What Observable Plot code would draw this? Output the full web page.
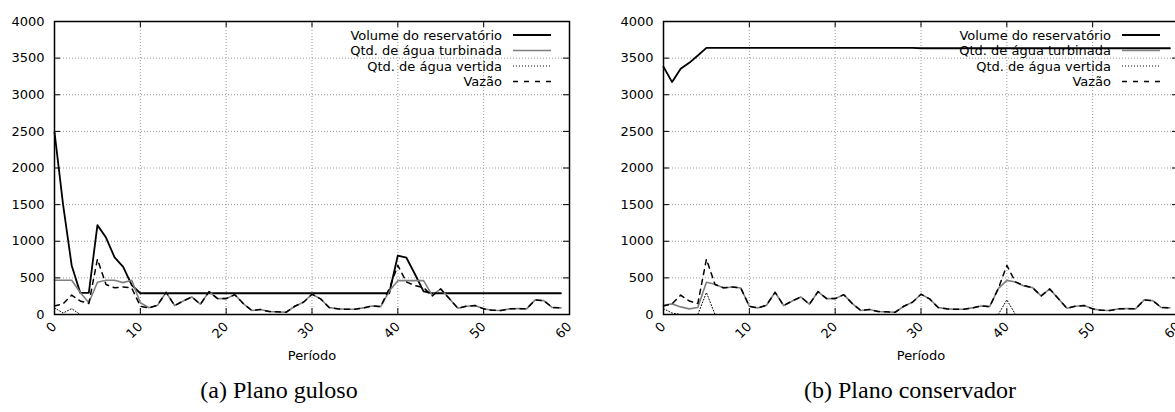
<!DOCTYPE html>
<html><head><meta charset="utf-8">
<script src="https://cdn.jsdelivr.net/npm/d3@7"></script>
<script src="https://cdn.jsdelivr.net/npm/@observablehq/plot@0.6"></script>
<style>
body{margin:0;width:1175px;height:412px;overflow:hidden;background:#fff;position:relative;font-family:"DejaVu Sans",sans-serif}
.chart{position:absolute;top:0;width:590px;height:370px}
.chart svg{max-width:none !important;width:590px;height:370px}
.caption{position:absolute;top:377px;font-family:"Liberation Serif","Times New Roman",serif;font-size:24px;transform:translateX(-50%);white-space:nowrap;color:#000}
</style></head><body>
<div id="a" class="chart" style="left:0"></div>
<div id="b" class="chart" style="left:609px"></div>
<div class="caption" style="left:279px">(a) Plano guloso</div>
<div class="caption" style="left:910px">(b) Plano conservador</div>
<script>
const periodos = [0,1,2,3,4,5,6,7,8,9,10,11,12,13,14,15,16,17,18,19,20,21,22,23,24,25,26,27,28,29,30,31,32,33,34,35,36,37,38,39,40,41,42,43,44,45,46,47,48,49,50,51,52,53,54,55,56,57,58,59];
const xTicks = [0,10,20,30,40,50,60];
const yTicks = [0,500,1000,1500,2000,2500,3000,3500,4000];
const serieNomes = ["Volume do reservatório","Qtd. de água turbinada","Qtd. de água vertida","Vazão"];

const vazao = [115,145,265,185,150,755,410,365,376,362,
 113,90,127,303,122,185,240,140,312,217,
 217,271,149,54,68,40,36,31,113,167,
 276,213,95,77,72,72,90,117,108,353,
 670,444,395,367,253,349,217,86,113,122,
 77,58,54,77,81,77,199,190,95,90];

const volGuloso = [2490,1500,670,295,295,1220,1050,780,650,400,
 290,290,290,290,290,290,290,290,290,290,
 290,290,290,290,290,290,290,290,290,290,
 290,290,290,290,290,290,290,290,290,290,
 805,775,550,317,290,290,290,290,290,290,
 290,290,290,290,290,290,290,290,290,290];
const turbGuloso = [467,467,467,300,160,440,467,467,435,467,
 160,92,125,303,122,185,240,140,312,217,
 217,271,149,54,68,40,36,31,113,167,
 276,213,95,77,72,72,90,117,108,320,
 462,462,462,462,262,349,217,86,113,122,
 77,58,54,77,81,77,199,190,95,90];
const vertGuloso = [90,20,80,0,0,0,0,0,0,0,
 0,0,0,0,0,0,0,0,0,0,
 0,0,0,0,0,0,0,0,0,0,
 0,0,0,0,0,0,0,0,0,0,
 0,0,0,0,0,0,0,0,0,0,
 0,0,0,0,0,0,0,0,0,0];

const volConserv = [3382,3173,3354,3436,3536,3640,3640,3640,3640,3640,
 3640,3640,3640,3640,3640,3640,3640,3640,3640,3640,
 3640,3640,3640,3640,3640,3640,3640,3640,3640,3640,
 3635,3635,3635,3635,3635,3635,3635,3635,3635,3635,
 3635,3635,3635,3635,3635,3635,3635,3635,3635,3635,
 3635,3635,3635,3635,3635,3635,3635,3635,3635,3635];
const turbConserv = [127,145,104,77,95,440,412,362,376,362,
 113,90,127,303,122,185,240,140,312,217,
 217,271,149,54,68,40,36,31,113,167,
 276,213,95,77,72,72,90,117,108,353,
 466,444,390,367,253,349,217,86,113,122,
 77,58,54,77,81,77,199,190,95,90];
const vertConserv = [80,20,0,0,0,300,0,0,0,0,
 0,0,0,0,0,0,0,0,0,0,
 0,0,0,0,0,0,0,0,0,0,
 0,0,0,0,0,0,0,0,0,0,
 200,0,0,0,0,0,0,0,0,0,
 0,0,0,0,0,0,0,0,0,0];

const estilos = [
  {stroke:"#000", strokeWidth:1.8, dash:null, legendDash:null},
  {stroke:"#808080", strokeWidth:1.6, dash:null, legendDash:null},
  {stroke:"#000", strokeWidth:1, dash:"1,2", legendDash:"1,2"},
  {stroke:"#000", strokeWidth:1.5, dash:"5,5", legendDash:"5,6"}
];

function chart(vol, turb, vert, vaz) {
  const W = 590, H = 370, mL = 54, mR = 21, mT = 21, mB = 56;
  const pw = W - mL - mR, ph = H - mT - mB;
  const rows = arr => periodos.map((p, i) => ({p, v: arr[i]}));
  const legend = (index, scales, values, dims) => {
    const g = d3.create("svg:g").attr("font-family", "DejaVu Sans").attr("font-size", 13);
    const right = dims.width - dims.marginRight;
    serieNomes.forEach((name, i) => {
      const y = dims.marginTop + 14 + i * 15.5;
      g.append("text").attr("x", right - 67).attr("y", y).attr("dy", "0.35em")
        .attr("text-anchor", "end").attr("fill", "#000").text(name);
      const s = estilos[i];
      g.append("line").attr("x1", right - 56).attr("x2", right - 18).attr("y1", y).attr("y2", y)
        .attr("stroke", s.stroke).attr("stroke-width", s.strokeWidth)
        .attr("stroke-dasharray", s.legendDash);
    });
    return g.node();
  };
  const line = (arr, i) => Plot.line(rows(arr), {x: "p", y: "v", stroke: estilos[i].stroke,
    strokeWidth: estilos[i].strokeWidth, strokeDasharray: estilos[i].dash || undefined});
  return Plot.plot({
    width: W, height: H, marginLeft: mL, marginRight: mR, marginTop: mT, marginBottom: mB,
    style: {fontFamily: "DejaVu Sans", fontSize: "13px", background: "white", overflow: "visible", color: "#000"},
    x: {domain: [0, 60]},
    y: {domain: [0, 4000]},
    marks: [
      Plot.gridX(xTicks.filter(t => t > 0 && t < 60), {stroke: "#999", strokeOpacity: 1, strokeDasharray: "1,2"}),
      Plot.gridY(yTicks.filter(t => t > 0 && t < 4000), {stroke: "#999", strokeOpacity: 1, strokeDasharray: "1,2"}),
      legend,
      line(vol, 0),
      line(turb, 1),
      line(vert, 2),
      line(vaz, 3),
      Plot.tickY(yTicks, {y: d => d, insetRight: pw - 6, stroke: "#000"}),
      Plot.tickY(yTicks, {y: d => d, insetLeft: pw - 6, stroke: "#000"}),
      Plot.tickX(xTicks, {x: d => d, insetTop: ph - 6, stroke: "#000"}),
      Plot.tickX(xTicks, {x: d => d, insetBottom: ph - 6, stroke: "#000"}),
      Plot.frame({stroke: "#000", strokeWidth: 1.5}),
      Plot.axisY(yTicks, {tickSize: 0, tickPadding: 10, label: null, tickFormat: d => String(d)}),
      Plot.axisX(xTicks, {tickSize: 0, tickPadding: 10, tickRotate: -45, label: null, tickFormat: d => String(d)}),
      Plot.text(["Período"], {frameAnchor: "bottom", dy: 45, text: d => d})
    ]
  });
}

document.getElementById("a").append(chart(volGuloso, turbGuloso, vertGuloso, vazao));
document.getElementById("b").append(chart(volConserv, turbConserv, vertConserv, vazao));
</script>
</body></html>
